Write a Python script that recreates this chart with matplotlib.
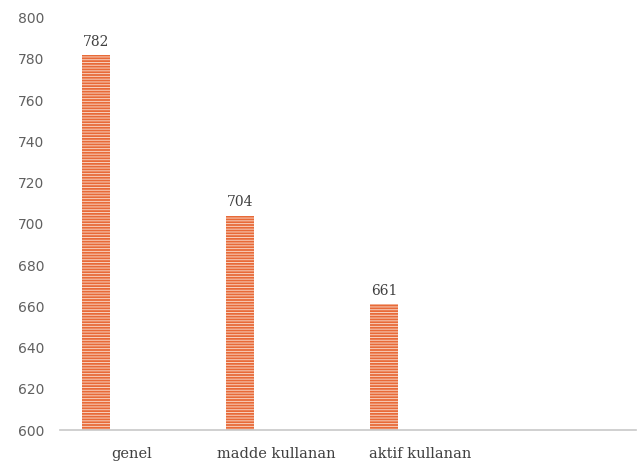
import numpy as np
import matplotlib
matplotlib.use("Agg")
import matplotlib.pyplot as plt

categories = ['genel', 'madde kullanan', 'aktif kullanan']
values = [782, 704, 661]
n_slots = 4  # the chart keeps room for a fourth, empty category

plt.rcParams['hatch.linewidth'] = 0.7
plt.rcParams['hatch.color'] = '#f8d2c0'

fig = plt.figure(figsize=(6.44, 4.65), dpi=100)
ax = fig.add_axes([0.093, 0.075, 0.895, 0.887])

x = np.arange(len(categories))
bar_w = 0.19
bars = ax.bar(x - 0.25, values, width=bar_w, color='#e86a38',
              edgecolor='#f8d2c0', linewidth=0, hatch='------', zorder=2)

for xi, v in zip(x - 0.25, values):
    ax.text(xi, v + 3, str(v), ha='center', va='bottom',
            fontsize=10, color='#404040', family='DejaVu Serif')

ax.set_ylim(600, 800)
ax.set_yticks(np.arange(600, 801, 20))
ax.set_xlim(-0.5, n_slots - 0.5)
ax.set_xticks(x)
ax.set_xticklabels(categories, family='DejaVu Serif', fontsize=10.5, color='#404040')

for s in ['top', 'right', 'left']:
    ax.spines[s].set_visible(False)
ax.spines['bottom'].set_color('#c8c8c8')
ax.spines['bottom'].set_linewidth(1.2)
ax.tick_params(axis='x', length=0, pad=12)
ax.tick_params(axis='y', length=0, pad=11, labelsize=10, labelcolor='#606060')

fig.savefig('out.png', dpi=100)
